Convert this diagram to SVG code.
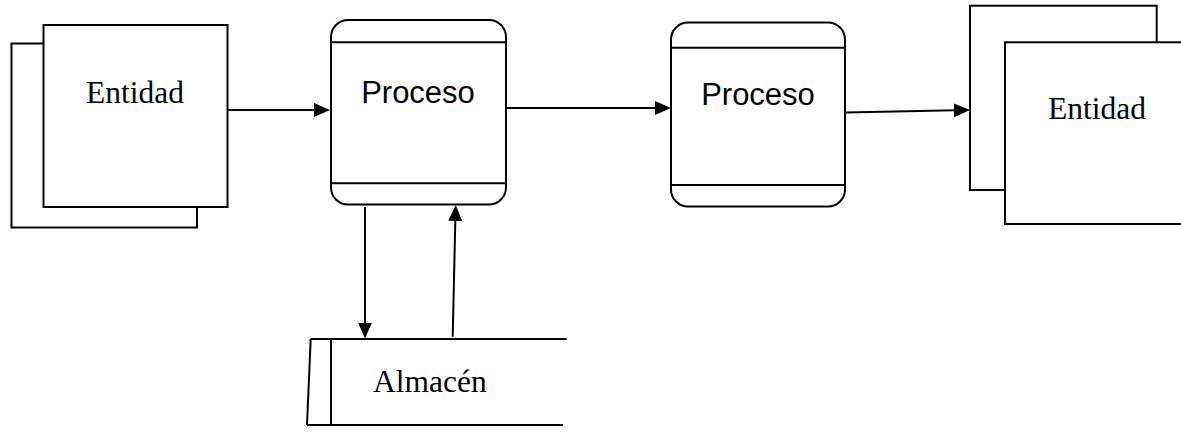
<svg xmlns="http://www.w3.org/2000/svg" width="1181" height="435" viewBox="0 0 1181 435">
<defs>
<style>
.s{fill:#fff;stroke:#000;stroke-width:2}
.l{fill:none;stroke:#000;stroke-width:2}
.serif{font-family:"Liberation Serif","Times New Roman",serif;font-size:31.5px;fill:#000}
.sans{font-family:"Liberation Sans",Arial,sans-serif;font-size:31px;fill:#000}
.c{stroke:#000;stroke-width:2;fill:none;marker-end:url(#ah)}
</style>
<marker id="ah" markerUnits="userSpaceOnUse" markerWidth="17" markerHeight="15" refX="13" refY="7" orient="auto">
<path d="M0,0 L16,7 L0,14 Z" fill="#000"/>
</marker>
</defs>
<rect width="1181" height="435" fill="#fff"/>
<g id="entidad1">
<rect class="s" x="11.5" y="43.5" width="185.5" height="184"/>
<rect class="s" x="43.5" y="25" width="184" height="182"/>
<text class="serif" x="135" y="102.5" text-anchor="middle">Entidad</text>
</g>
<g id="proceso1">
<rect class="s" x="331" y="20" width="175" height="184.5" rx="17" ry="17"/>
<line class="l" x1="331" y1="42.3" x2="506" y2="42.3"/>
<line class="l" x1="331" y1="183.3" x2="506" y2="183.3"/>
<text class="sans" x="418" y="102.5" text-anchor="middle">Proceso</text>
</g>
<g id="proceso2">
<rect class="s" x="671" y="22.5" width="174" height="184" rx="17" ry="17"/>
<line class="l" x1="671" y1="47.7" x2="845" y2="47.7"/>
<line class="l" x1="671" y1="185" x2="845" y2="185"/>
<text class="sans" x="758" y="105" text-anchor="middle">Proceso</text>
</g>
<g id="entidad2">
<rect class="s" x="970" y="5.7" width="186.7" height="184.3"/>
<rect class="s" x="1005" y="42.3" width="190" height="181.7"/>
<text class="serif" x="1097" y="119.3" text-anchor="middle">Entidad</text>
</g>
<g id="almacen">
<line class="l" x1="310.7" y1="339" x2="566.7" y2="339"/>
<line class="l" x1="307" y1="425" x2="563" y2="425"/>
<line class="l" x1="310.7" y1="339" x2="307" y2="425"/>
<line class="l" x1="331" y1="339" x2="331" y2="425"/>
<text class="serif" x="373" y="391.7">Almacén</text>
</g>
<g id="connectors">
<line class="c" x1="228" y1="110" x2="327" y2="110"/>
<line class="c" x1="507" y1="108" x2="668" y2="108"/>
<line class="c" x1="846" y1="112.5" x2="967" y2="110.1"/>
<line class="c" x1="365" y1="207" x2="365" y2="335.5"/>
<line class="c" x1="452.7" y1="336.7" x2="455.6" y2="208"/>
</g>
</svg>
